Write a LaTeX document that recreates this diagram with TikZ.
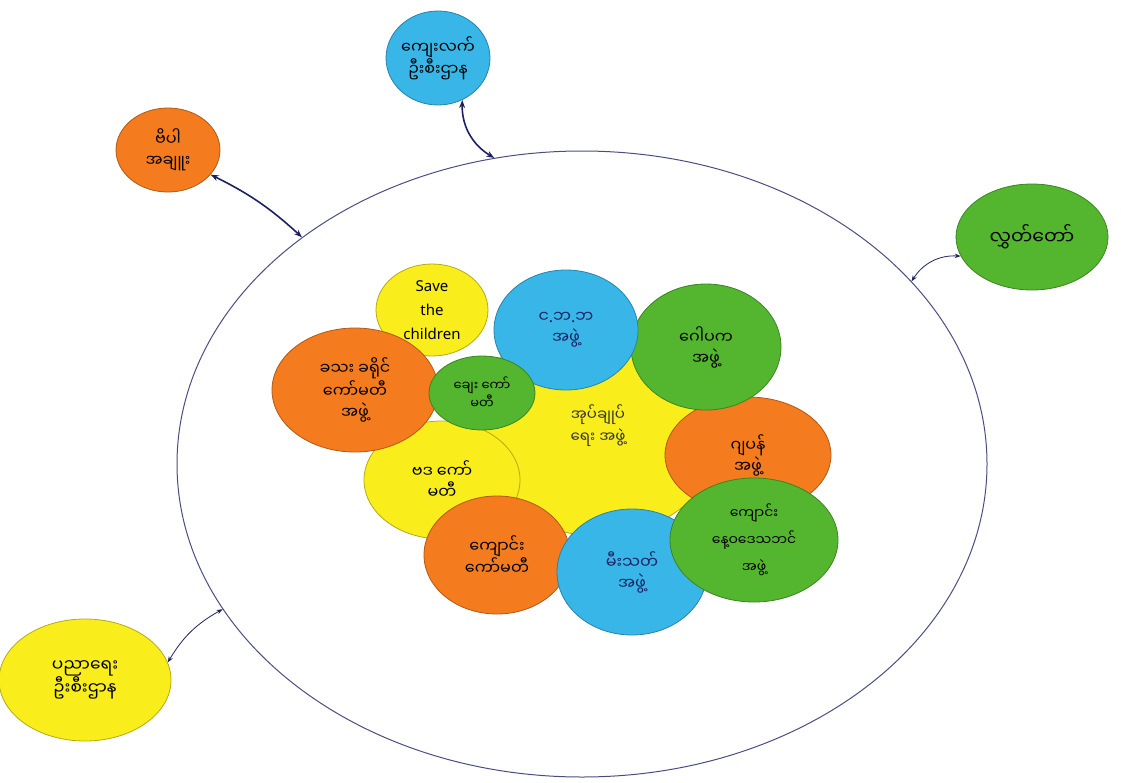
\documentclass[tikz,border=0pt]{standalone}
\usepackage{fontspec}
\newfontfamily\mmfont[Script=Myanmar]{Noto Sans Myanmar UI}
\newfontfamily\latinfont{Noto Sans}
\usetikzlibrary{arrows.meta,shapes.geometric}
\definecolor{blobyellow}{RGB}{249,238,28}
\definecolor{bloborange}{RGB}{244,123,30}
\definecolor{blobblue}{RGB}{56,182,232}
\definecolor{blobgreen}{RGB}{84,182,46}
\definecolor{inkblue}{RGB}{28,34,96}
\newcommand{\dotmark}{{\latinfont.}}

\begin{document}
\begin{tikzpicture}[
    x=1pt, y=-1pt,
    every node/.style={font=\mmfont\fontsize{16}{21}\selectfont, align=center, text=black},
    blob/.style={ellipse, draw=#1!72!black, fill=#1, line width=0.8pt, inner sep=0pt},
    ring/.style={ellipse, draw=inkblue!80, line width=1pt, inner sep=0pt},
    link/.style={{Stealth[length=8pt]}-{Stealth[length=8pt]}, line width=1.6pt, draw=inkblue},
    thinlink/.style={{Stealth[length=6pt]}-{Stealth[length=6pt]}, line width=0.8pt, draw=inkblue}
]
\useasboundingbox (0,0) rectangle (1121,782);
% the village
\node[ring, minimum width=810, minimum height=626] (village) at (582,464) {};

% groups inside the village
\node[blob=blobyellow, minimum width=250, minimum height=220, text=black!80,
      font=\mmfont\fontsize{15}{22}\selectfont] (hub) at (598,426) {အုပ်ချုပ်\\ရေး အဖွဲ့};
\node[blob=blobyellow, minimum width=112, minimum height=92,
      font=\latinfont\fontsize{15}{24}\selectfont] (save) at (432,310) {Save\\the\\children};
\node[blob=blobyellow, minimum width=156, minimum height=118] (vdc) at (442,480) {ဗဒ ကော်\\မတီ};
\node[blob=bloborange, minimum width=166, minimum height=124] (district) at (355,390) {ခသး ခရိုင်\\ကော်မတီ\\အဖွဲ့};
\node[blob=bloborange, minimum width=166, minimum height=116] (japan) at (748,455) {ဂျပန်\\အဖွဲ့};
\node[blob=blobgreen, minimum width=150, minimum height=126] (trustee) at (706,347) {ဂေါပက\\အဖွဲ့};
\node[blob=blobblue, minimum width=144, minimum height=120, text=inkblue] (cbo) at (566,330) {င\dotmark ဘ\dotmark ဘ\\အဖွဲ့};
\node[blob=blobgreen, minimum width=106, minimum height=74,
      font=\mmfont\fontsize{13}{17}\selectfont] (loan) at (482,393) {ချေး ကော်\\မတီ};
\node[blob=bloborange, minimum width=146, minimum height=118] (school) at (497,555) {ကျောင်း\\ကော်မတီ};
\node[blob=blobblue, minimum width=150, minimum height=126, text=inkblue] (fire) at (632,572) {မီးသတ်\\အဖွဲ့};
\node[blob=blobgreen, minimum width=168, minimum height=124,
      font=\mmfont\fontsize{14}{27}\selectfont] (pta) at (754,540) {ကျောင်း\\နေ့ဝဒေသဘင်\\အဖွဲ့};

% groups outside the village
\node[blob=blobblue, minimum width=100, minimum height=94] (rural) at (438,58) {ကျေးလက်\\ဦးစီးဌာန};
\node[blob=bloborange, minimum width=104, minimum height=84] (police) at (168,150) {ဗိပါ\\အချူး};
\node[blob=blobgreen, minimum width=152, minimum height=106,
      font=\mmfont\fontsize{19}{22}\selectfont] (hluttaw) at (1032,237) {လွှတ်တော်};
\node[blob=blobyellow, minimum width=172, minimum height=122,
      font=\mmfont\fontsize{17}{23}\selectfont] (edu) at (85,680) {ပညာရေး\\ဦးစီးဌာန};

\draw[link] (rural.300) to[bend right=30] (village.106);
\draw[link] (police.330) to[bend left=8] (village.141);
\draw[thinlink] (hluttaw.195) to[bend right=30] (village.29);
\draw[thinlink] (edu.12) to[bend left=15] (village.202);
\end{tikzpicture}
\end{document}
